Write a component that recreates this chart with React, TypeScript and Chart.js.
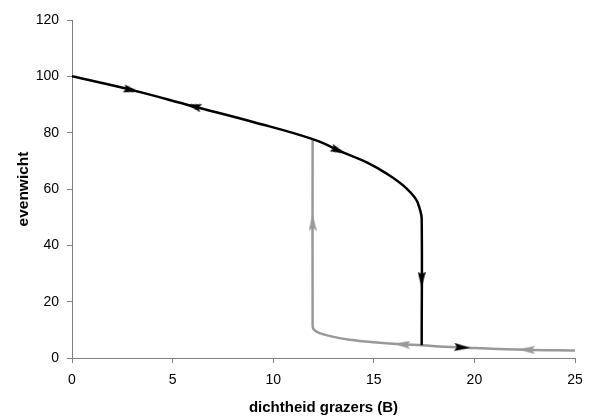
import React, { useEffect, useRef } from 'react';
import { Chart, registerables } from 'chart.js';
Chart.register(...registerables);

// Upper (black) branch: equilibrium curve then sudden collapse
const upperX = [0, 3, 6, 9, 12, 13.5, 14.7, 15.7, 16.5, 17.1, 17.3, 17.38, 17.38];
const upperY = [100, 95.1, 89.4, 83.8, 77.6, 72.9, 69.3, 65.2, 61.0, 56.3, 52.5, 49.5, 4.5];

// Lower (grey) branch: recovery jump and low equilibrium
const lowerX = [11.96, 11.96, 12.0, 12.15, 12.5, 13.0, 13.8, 15.0, 16.3, 17.4, 18.5, 20, 22.5, 25];
const lowerY = [77.8, 11.5, 10.3, 9.4, 8.4, 7.5, 6.5, 5.6, 4.9, 4.5, 4.0, 3.55, 2.95, 2.7];

// Direction arrows
const arrowX = [2.96, 6.03, 13.25, 17.38, 11.96, 16.4, 19.4, 22.6];
const arrowY = [95.1, 89.4, 73.6, 27.8, 48.1, 4.85, 3.75, 2.95];
const arrowAngle = [13, 194, 23, 90, -90, 184, 3, 182];
const arrowBlack = [true, true, true, true, false, false, true, false];

const xTitle = 'dichtheid grazers (B)';
const yTitle = 'evenwicht';

const BLACK = '#000000';
const GREY = '#999999';
const FONT = "'Liberation Sans', Arial, sans-serif";

function makeArrow(color: string) {
  const c = document.createElement('canvas');
  c.width = 16;
  c.height = 8;
  const g = c.getContext('2d')!;
  g.fillStyle = color;
  g.beginPath();
  g.moveTo(0, 0);
  g.lineTo(16, 4);
  g.lineTo(0, 8);
  g.lineTo(2.5, 4);
  g.closePath();
  g.fill();
  return c;
}

export default function App() {
  const ref = useRef<HTMLCanvasElement>(null);
  useEffect(() => {
    if (!ref.current) return;
    const blackArrow = makeArrow(BLACK);
    const greyArrow = makeArrow(GREY);
    const chart = new Chart(ref.current, {
      type: 'scatter',
      data: {
        datasets: [
          {
            data: arrowX.map((x, i) => ({ x, y: arrowY[i] })),
            pointStyle: arrowBlack.map((b) => (b ? blackArrow : greyArrow)) as any,
            pointRotation: arrowAngle,
            pointRadius: 5,
            showLine: false,
          },
          {
            data: upperX.map((x, i) => ({ x, y: upperY[i] })),
            showLine: true,
            borderColor: BLACK,
            borderWidth: 2.5,
            pointRadius: 0,
            tension: 0.4,
          },
          {
            data: lowerX.map((x, i) => ({ x, y: lowerY[i] })),
            showLine: true,
            borderColor: GREY,
            borderWidth: 2.5,
            pointRadius: 0,
            tension: 0.4,
          },
        ],
      },
      options: {
        responsive: false,
        animation: false,
        events: [],
        layout: { padding: { top: 20, right: 18, left: 0, bottom: 0 } },
        plugins: { legend: { display: false }, tooltip: { enabled: false } },
        scales: {
          x: {
            type: 'linear',
            min: 0,
            max: 25,
            ticks: { stepSize: 5, color: '#000', padding: 9, font: { family: FONT, size: 14 } },
            grid: { drawOnChartArea: false, drawTicks: true, tickLength: 5, color: '#808080' },
            border: { color: '#808080', width: 1 },
            title: {
              display: true,
              text: xTitle,
              color: '#000',
              font: { family: FONT, size: 15, weight: 'bold' },
              padding: { top: 0, bottom: 1.5 },
            },
            afterFit: (s: any) => {
              s.height = 60;
            },
          },
          y: {
            type: 'linear',
            min: 0,
            max: 120,
            ticks: { stepSize: 20, color: '#000', padding: 8, font: { family: FONT, size: 14 } },
            grid: { drawOnChartArea: false, drawTicks: true, tickLength: 5, color: '#808080' },
            border: { color: '#808080', width: 1 },
            title: {
              display: true,
              text: yTitle,
              color: '#000',
              font: { family: FONT, size: 15.5, weight: 'bold' },
              padding: { top: 14, bottom: 0 },
            },
            afterFit: (s: any) => {
              s.width = 72;
            },
          },
        },
      },
    });
    return () => chart.destroy();
  }, []);
  return (
    <div style={{ position: 'absolute', left: 0, top: 0, width: 593, height: 418, background: '#fff' }}>
      <canvas ref={ref} width={593} height={418} style={{ display: 'block' }} />
    </div>
  );
}
